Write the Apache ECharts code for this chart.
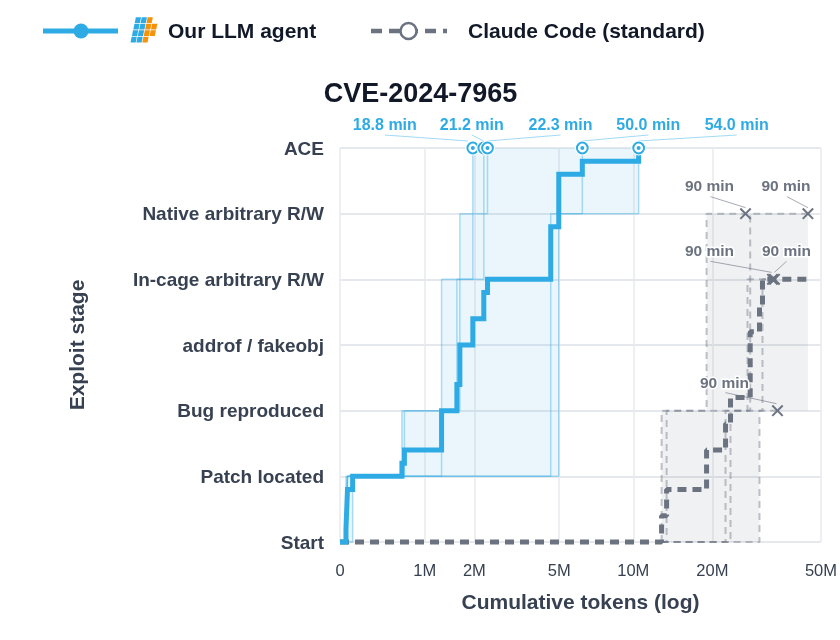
<!DOCTYPE html>
<html><head><meta charset="utf-8">
<style>html,body{margin:0;padding:0;background:#fff}#c{width:840px;height:640px}</style>
<script src="https://cdn.jsdelivr.net/npm/echarts@6/dist/echarts.min.js"></script>
</head><body><div id="c"></div>
<script>
// ---------- data ----------
const stageLabels = ['Start','Patch located','Bug reproduced','addrof / fakeobj','In-cage arbitrary R/W','Native arbitrary R/W','ACE'];
const tickTokensM = [0,1,2,5,10,20,50];
const tickLabels = ['0','1M','2M','5M','10M','20M','50M'];

// five runs of our agent: tokens (millions) when stage 1..6 was reached
const agentRunA = [0.050,0.659,1.294,1.294,1.664,1.962];
const agentRunB = [0.063,0.693,1.60,1.60,1.962,2.24];
const agentRunC = [0.063,1.294,1.664,1.664,2.24,2.34];
const agentRunD = [0.063,4.60,4.60,4.60,4.60,6.25];
const agentRunE = [0.109,4.98,4.98,4.98,4.98,10.49];
const agentRuns = [agentRunA,agentRunB,agentRunC,agentRunD,agentRunE];
const agentFinishLabels = ['18.8 min','21.2 min','22.3 min','50.0 min','54.0 min'];

// mean progress of our agent
const agentMeanTokens = [0,0.050,0.063,0.109,0.659,0.693,1.294,1.60,1.664,1.962,2.24,2.34,4.60,4.98,6.25,10.49];
const agentMeanLevel  = [0,0.2,0.8,1.0,1.2,1.4,2.0,2.4,3.0,3.4,3.8,4.0,4.8,5.6,5.8,6.0];

// band per stage: earliest and latest tokens
const agentBandLow  = [0.050,0.659,1.294,1.294,1.664,1.962];
const agentBandHigh = [0.109,4.98,4.98,4.98,4.98,10.49];

// five Claude Code runs, all timed out: stage tokens and where the run ended
const claudeRunP = [12.86,12.86,19.02,19.02,19.02];
const claudeRunQ = [13.44,13.44,26.98,26.98];
const claudeRunR = [22.38,22.38,27.6,27.6,27.6];
const claudeRunS = [23.35,23.35,30.62,30.62];
const claudeRunT = [29.86,29.86];
const claudeRuns = [claudeRunP,claudeRunQ,claudeRunR,claudeRunS,claudeRunT];
const claudeRunEnds = [26.53,33.31,44.85,33.88,34.75];
const claudeEndLabels = ['90 min','90 min','90 min','90 min','90 min'];

const claudeMeanTokens = [0,12.86,13.44,19.02,22.38,23.35,27.6,29.86,30.62,44.85];
const claudeMeanLevel  = [0,0.4,0.8,1.4,1.8,2.2,3.2,3.6,4.0,4.0];

const claudeBandLow  = [12.86,12.86,19.02,19.02,19.02];
const claudeBandHigh = [29.86,29.86,44.85,44.85,44.85];

// ---------- helpers ----------
const tx = m => Math.log10(1 + m);          // axis scale: log10(1 + tokens / 1M)
const BLUE = '#2EABE4', GRAY = '#6B7280', INK = '#374151';
const FONT = '"Liberation Sans", Arial, sans-serif';

function runPoints(run, start, end){
  const pts = [[tx(start),0]];
  run.forEach((t,i)=>pts.push([tx(t),i+1]));
  if(end!==undefined) pts.push([tx(end),run.length]);
  return pts;
}
function bandSeries(low, high, color){
  return {
    type:'custom', silent:true, z:1, clip:false,
    data: low.map((l,i)=>[tx(l),tx(high[i]),i,i+1]),
    renderItem:(p,api)=>{
      const a=api.coord([api.value(0),api.value(3)]), b=api.coord([api.value(1),api.value(2)]);
      return {type:'rect',shape:{x:a[0],y:a[1],width:b[0]-a[0],height:b[1]-a[1]},style:{fill:color}};
    }
  };
}
function runLine(run,start,end,style){
  return {type:'line',silent:true,z:2,clip:false,symbol:'none',step:'end',animation:false,
    data:runPoints(run,start,end),lineStyle:style};
}
// label offsets relative to the marker: [label dx, label dy, leader start dx, dy, leader end dx, dy]
const agentLabelLayout = [[-88,-22,-88,-13,-5,-7],[-12,-22,-12,-13,0,-7],[73,-22,73,-13,0,-7],[66,-22,66,-13,0,-7],[98,-22,98,-13,0,-7]];
const claudeLabelLayout = [[-36,-27,-35,-17,0,-6],[-63,-27.5,-62,-18,-1,-7],[-22,-27,-21,-17,0,-6],[12,-27.5,12,-18,0,-7],[-53,-27,-52,-18,-1,-7]];

const series = [];
series.push(bandSeries(agentBandLow,agentBandHigh,'rgba(46,171,228,0.1)'));
series.push(bandSeries(claudeBandLow,claudeBandHigh,'rgba(107,114,128,0.1)'));
agentRuns.forEach(r=>series.push(runLine(r,agentBandLow[0],undefined,{color:'rgba(46,171,228,0.38)',width:1.5})));
claudeRuns.forEach((r,i)=>series.push(runLine(r,claudeBandLow[0],claudeRunEnds[i],{color:'rgba(107,114,128,0.42)',width:2,type:[7,5]})));
series.push({name:'Claude Code (standard)',type:'line',z:5,clip:false,symbol:'none',step:'end',silent:true,
  data:claudeMeanTokens.map((t,i)=>[tx(t),claudeMeanLevel[i]]),
  lineStyle:{color:GRAY,width:5,type:[9,6],cap:'butt'}});
series.push({name:'Our LLM agent',type:'line',z:6,clip:false,symbol:'none',step:'end',silent:true,
  data:agentMeanTokens.map((t,i)=>[tx(t),agentMeanLevel[i]]),
  lineStyle:{color:BLUE,width:5,join:'miter'}});
// Claude run ends: cross marker, leader, label
series.push({type:'custom',z:7,clip:false,silent:true,
  data:claudeRuns.map((r,i)=>[tx(claudeRunEnds[i]),r.length]),
  renderItem:(p,api)=>{
    const c=api.coord([api.value(0),api.value(1)]), L=claudeLabelLayout[p.dataIndex], s=5.2;
    return {type:'group',children:[
      {type:'line',shape:{x1:c[0]+L[2],y1:c[1]+L[3],x2:c[0]+L[4],y2:c[1]+L[5]},style:{stroke:'rgba(107,114,128,0.6)',lineWidth:1}},
      {type:'line',shape:{x1:c[0]-s,y1:c[1]-s,x2:c[0]+s,y2:c[1]+s},style:{stroke:GRAY,lineWidth:2}},
      {type:'line',shape:{x1:c[0]-s,y1:c[1]+s,x2:c[0]+s,y2:c[1]-s},style:{stroke:GRAY,lineWidth:2}},
      {type:'text',style:{x:c[0]+L[0],y:c[1]+L[1],text:claudeEndLabels[p.dataIndex],align:'center',verticalAlign:'middle',
        fill:GRAY,font:'bold 15.5px '+FONT,stroke:'#fff',lineWidth:3}}
    ]};
  }});
// Agent ACE markers, leaders, labels
series.push({type:'custom',z:8,clip:false,silent:true,
  data:agentRuns.map(r=>[tx(r[5]),6]),
  renderItem:(p,api)=>{
    const c=api.coord([api.value(0),api.value(1)]), L=agentLabelLayout[p.dataIndex];
    return {type:'group',children:[
      {type:'line',shape:{x1:c[0]+L[2],y1:c[1]+L[3],x2:c[0]+L[4],y2:c[1]+L[5]},style:{stroke:'rgba(46,171,228,0.45)',lineWidth:1}},
      {type:'circle',shape:{cx:c[0],cy:c[1],r:7.5},style:{fill:'#fff'}},
      {type:'circle',shape:{cx:c[0],cy:c[1],r:5.4},style:{fill:'#fff',stroke:BLUE,lineWidth:2}},
      {type:'circle',shape:{cx:c[0],cy:c[1],r:2},style:{fill:BLUE}},
      {type:'text',style:{x:c[0]+L[0],y:c[1]+L[1],text:agentFinishLabels[p.dataIndex],align:'center',verticalAlign:'middle',
        fill:BLUE,font:'bold 16px '+FONT}}
    ]};
  }});

// legend pieces
const logoCells = [];
const logoBlue='#2EABE4', logoOrange='#F59209';
[[0,'b'],[1,'b'],[2,'o']].forEach(([col,k])=>logoCells.push([0,col,k]));
[[0,'b'],[1,'b'],[2,'o'],[3,'o']].forEach(([col,k])=>logoCells.push([1,col,k]));
[[0,'b'],[1,'b'],[2,'o'],[3,'o']].forEach(([col,k])=>logoCells.push([2,col,k]));
[[0,'b'],[1,'b'],[2,'o']].forEach(([col,k])=>logoCells.push([3,col,k]));
const logo = logoCells.map(([r,c,k])=>{
  const top=17.2+r*6.5, h=5.7, w=5.2, sk=0.2;
  const x0=130.5+(c*5.9)+(3-r)*1.4;
  return {type:'polygon',shape:{points:[[x0+h*sk,top],[x0+w+h*sk,top],[x0+w,top+h],[x0,top+h]]},style:{fill:k==='b'?logoBlue:logoOrange}};
});
const graphic = [
  {type:'line',shape:{x1:43,y1:31,x2:118,y2:31},style:{stroke:BLUE,lineWidth:5}},
  {type:'circle',shape:{cx:81,cy:31,r:7.5},style:{fill:BLUE}},
  ...logo,
  {type:'text',x:168,y:32,style:{text:'Our LLM agent',verticalAlign:'middle',font:'bold 21px '+FONT,fill:'#111827'}},
  {type:'line',shape:{x1:371,y1:31,x2:447,y2:31},style:{stroke:GRAY,lineWidth:4.5,lineDash:[11,7]}},
  {type:'circle',shape:{cx:408.5,cy:31,r:8},style:{fill:'#fff',stroke:GRAY,lineWidth:2.5}},
  {type:'text',x:468,y:32,style:{text:'Claude Code (standard)',verticalAlign:'middle',font:'bold 21px '+FONT,fill:'#111827'}}
];

const chart = echarts.init(document.getElementById('c'),null,{renderer:'canvas'});
chart.setOption({
  animation:false,
  backgroundColor:'#fff',
  title:{text:'CVE-2024-7965',left:415.5,top:76,textAlign:'center',textStyle:{fontSize:27,fontWeight:'bold',color:'#111827',fontFamily:FONT}},
  grid:{left:340,right:17,top:148,bottom:98,containLabel:false},
  xAxis:{type:'value',min:tx(0),max:tx(50),
    name:'Cumulative tokens (log)',nameLocation:'middle',nameGap:51,
    nameTextStyle:{fontSize:21,fontWeight:'bold',color:INK,fontFamily:FONT},
    axisLine:{show:false},axisTick:{show:false,customValues:tickTokensM.map(tx)},
    splitLine:{show:true,lineStyle:{color:'#E8EAEE',width:1.5}},
    axisLabel:{margin:21,fontSize:16.5,color:INK,fontFamily:FONT,
      customValues:tickTokensM.map(tx),
      formatter:v=>{
        const i=tickTokensM.findIndex(t=>Math.abs(tx(t)-v)<1e-6);
        return i>=0?tickLabels[i]:'';
      }}},
  yAxis:{type:'value',min:0,max:6,interval:1,
    name:'Exploit stage',nameLocation:'middle',nameGap:251,nameRotate:90,
    nameTextStyle:{fontSize:21,fontWeight:'bold',color:INK,fontFamily:FONT},
    axisLine:{show:false},axisTick:{show:false},
    splitLine:{show:true,lineStyle:{color:'#DDE0E6',width:1.5}},
    axisLabel:{margin:16,formatter:v=>'{s|'+stageLabels[v]+'}',
      rich:{s:{fontSize:19,fontWeight:'bold',color:INK,fontFamily:FONT,padding:[3,0,0,0]}}}},
  graphic:{elements:graphic},
  series
});
</script></body></html>
